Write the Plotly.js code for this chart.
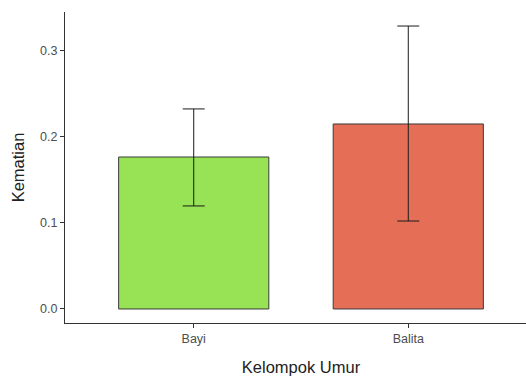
<!DOCTYPE html>
<html>
<head>
<meta charset="utf-8">
<script src="https://cdn.plot.ly/plotly-3.0.1.min.js"></script>
<style>
html, body { margin: 0; padding: 0; overflow: hidden; background: #fff; }
#chart { width: 537px; height: 376px; }
</style>
</head>
<body>
<div id="chart"></div>
<script>
const categories = ["Bayi", "Balita"];
const meanValues = [0.1767, 0.2151];
const lowerValues = [0.1198, 0.1023];
const upperValues = [0.2326, 0.3290];
const barColors = ["#98E256", "#E56F56"];
const yTickValues = [0.0, 0.1, 0.2, 0.3];
const yTickLabels = ["0.0", "0.1", "0.2", "0.3"];

const trace = {
  type: "bar",
  x: categories,
  y: meanValues,
  width: 0.7,
  marker: { color: barColors, line: { color: "#3a3a3a", width: 1 } },
  error_y: {
    type: "data",
    symmetric: false,
    array: upperValues.map((u, i) => u - meanValues[i]),
    arrayminus: meanValues.map((m, i) => m - lowerValues[i]),
    color: "#1a1a1a",
    thickness: 1,
    width: 11
  },
  hoverinfo: "none"
};

const font = "Liberation Sans, Arial, sans-serif";
const layout = {
  width: 537,
  height: 376,
  margin: { l: 65, r: 0, t: 12, b: 53 },
  paper_bgcolor: "#ffffff",
  plot_bgcolor: "#ffffff",
  showlegend: false,
  font: { family: font },
  xaxis: {
    type: "category",
    range: [-0.6, 1.6],
    showgrid: false,
    zeroline: false,
    showline: true,
    linecolor: "#333333",
    linewidth: 1,
    ticks: "outside",
    ticklen: 4,
    tickcolor: "#333333",
    tickfont: { family: font, size: 12.5, color: "#4d4d4d" },
    title: { text: "Kelompok Umur", font: { family: font, size: 16.5, color: "#222222" }, standoff: 17 }
  },
  yaxis: {
    range: [-0.0163, 0.3453],
    showgrid: false,
    zeroline: false,
    showline: true,
    linecolor: "#333333",
    linewidth: 1,
    ticks: "outside",
    ticklen: 4,
    tickcolor: "#333333",
    tickvals: yTickValues,
    ticktext: yTickLabels,
    tickfont: { family: font, size: 12.5, color: "#4d4d4d" },
    title: { text: "Kematian", font: { family: font, size: 16.5, color: "#222222" }, standoff: 11 }
  }
};

Plotly.newPlot("chart", [trace], layout, { displayModeBar: false, staticPlot: true });
</script>
</body>
</html>
